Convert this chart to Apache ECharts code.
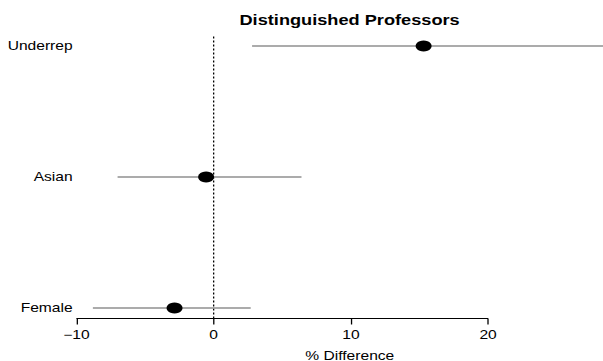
<!DOCTYPE html>
<html><head><meta charset="utf-8">
<script src="https://cdn.jsdelivr.net/npm/echarts@6/dist/echarts.min.js"></script>
<style>
html,body{margin:0;padding:0;background:#fff;overflow:hidden}
#wrap{width:603px;height:361px;overflow:hidden}
#c{width:464px;height:361px;transform:scaleX(1.2996);transform-origin:0 0}
</style>
</head><body><div id="wrap"><div id="c"></div></div>
<script>
const categories = ['Female', 'Asian', 'Underrep'];
const estimates = [-2.85, -0.55, 15.3];
const lower = [-8.8, -7.0, 2.8];
const upper = [2.7, 6.4, 30.0];
const xTicks = [-10, 0, 10, 20];
const titleText = 'Distinguished Professors';
const xLabel = '% Difference';

const font = 'Liberation Sans, Arial, Helvetica, sans-serif';
const ciSeries = categories.map((c, i) => ({
  type: 'line', data: [[lower[i], i + 1], [upper[i], i + 1]],
  symbol: 'none', lineStyle: { color: '#8f8f8f', width: 1.5 }, silent: true, z: 2
}));

const chart = echarts.init(document.getElementById('c'), null, { renderer: 'svg' });
chart.setOption({
  animation: false,
  backgroundColor: '#fff',
  title: { text: titleText, left: 264, top: 8, textAlign: 'center',
    textStyle: { fontFamily: font, fontWeight: 'bold', fontSize: 14, color: '#000' } },
  grid: { left: 56.9, right: -17.4, top: 35.5, bottom: 42.5, outerBoundsMode: 'none' },
  xAxis: {
    type: 'value', min: -10.18, max: 30.02,
    axisLine: { show: false },
    axisTick: { show: true, length: 6, lineStyle: { color: '#000', width: 1 }, customValues: xTicks },
    axisLabel: { customValues: xTicks, margin: 10, fontFamily: font, fontSize: 12, color: '#000',
      formatter: v => (v < 0 ? '\u2212' + Math.abs(v) : String(v)) },
    splitLine: { show: false },
    name: xLabel, nameLocation: 'middle', nameGap: 31,
    nameTextStyle: { fontFamily: font, fontSize: 12, color: '#000' }
  },
  yAxis: {
    type: 'value', min: 0.92, max: 3.08,
    axisLine: { show: false }, axisTick: { show: false }, splitLine: { show: false },
    axisLabel: { customValues: [1, 2, 3], margin: 1, fontFamily: font, fontSize: 12, color: '#000',
      formatter: v => categories[Math.round(v) - 1] }
  },
  series: [
    ...ciSeries,
    { type: 'line', data: [[xTicks[0], 0.92], [xTicks[xTicks.length - 1], 0.92]], symbol: 'none',
      lineStyle: { color: '#000', width: 1 }, silent: true, clip: false, z: 3 },
    { type: 'line', data: [[0, 0.92], [0, 3.08]], symbol: 'none',
      lineStyle: { color: '#000', width: 1, type: [2, 2] }, silent: true, z: 1 },
    { type: 'scatter', data: estimates.map((v, i) => [v, i + 1]), symbol: 'circle',
      symbolSize: [12.3, 11], itemStyle: { color: '#000', opacity: 1 }, z: 5 }
  ]
});
</script></body></html>
